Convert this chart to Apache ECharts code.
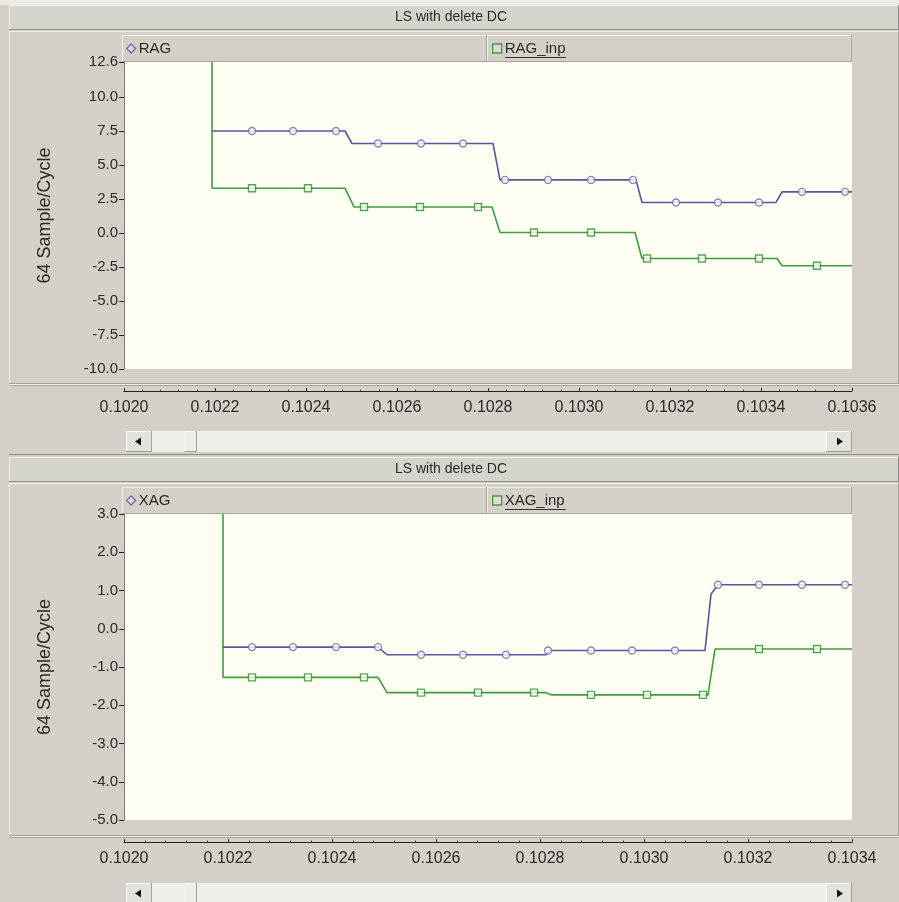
<!DOCTYPE html>
<html><head><meta charset="utf-8">
<script src="https://cdn.jsdelivr.net/npm/echarts@6/dist/echarts.min.js"></script>
<style>html,body{margin:0;padding:0;background:#d4d0c8}#c{width:899px;height:902px}</style>
</head><body><div id="c"></div>
<script>
// ---------- text ----------
const panelTitle = 'LS with delete DC';
const yAxisName = '64 Sample/Cycle';
const topNames = ['RAG', 'RAG_inp'];
const botNames = ['XAG', 'XAG_inp'];

// ---------- axis ranges ----------
const topX = [0.1020, 0.1036, 0.0002];
const topY = [-10, 12.6, 2.5];
const botX = [0.1020, 0.1034, 0.0002];
const botY = [-5, 3, 1];

// ---------- top panel: RAG ----------
const ragPathX = [0.1021934, 0.1024857, 0.1025011, 0.1028110, 0.1028264, 0.1031253, 0.1031385, 0.1034330, 0.1034462, 0.1036];
const ragPathY = [7.52, 7.52, 6.60, 6.60, 3.92, 3.92, 2.26, 2.26, 3.04, 3.04];
const ragMarkX = [0.1022813, 0.1023714, 0.1024659, 0.1025582, 0.1026527, 0.1027451, 0.1028374, 0.1029319, 0.1030264, 0.1031187, 0.1032132, 0.1033055, 0.1033956, 0.1034901, 0.1035846];
const ragMarkY = [7.52, 7.52, 7.52, 6.60, 6.60, 6.60, 3.92, 3.92, 3.92, 3.92, 2.26, 2.26, 2.26, 3.04, 3.04];

// ---------- top panel: RAG_inp ----------
const ragInpPathX = [0.1021934, 0.1021934, 0.1024857, 0.1025055, 0.1028088, 0.1028264, 0.1031231, 0.1031385, 0.1034352, 0.1034462, 0.1036];
const ragInpPathY = [12.6, 3.31, 3.31, 1.93, 1.93, 0.05, 0.05, -1.86, -1.86, -2.40, -2.40];
const ragInpMarkX = [0.1022813, 0.1024044, 0.1025275, 0.1026505, 0.1027780, 0.1029011, 0.1030264, 0.1031495, 0.1032703, 0.1033956, 0.1035230];
const ragInpMarkY = [3.31, 3.31, 1.93, 1.93, 1.93, 0.05, 0.05, -1.86, -1.86, -1.86, -2.40];

// ---------- bottom panel: XAG ----------
const xagPathX = [0.1021904, 0.1024885, 0.1025058, 0.1028115, 0.1028192, 0.1031173, 0.1031288, 0.1031423, 0.1034];
const xagPathY = [-0.48, -0.48, -0.68, -0.68, -0.57, -0.57, 0.90, 1.15, 1.15];
const xagMarkX = [0.1022462, 0.1023250, 0.1024077, 0.1024885, 0.1025712, 0.1026519, 0.1027346, 0.1028154, 0.1028981, 0.1029769, 0.1030596, 0.1031423, 0.1032212, 0.1033038, 0.1033865];
const xagMarkY = [-0.48, -0.48, -0.48, -0.48, -0.68, -0.68, -0.68, -0.57, -0.57, -0.57, -0.57, 1.15, 1.15, 1.15, 1.15];

// ---------- bottom panel: XAG_inp ----------
const xagInpPathX = [0.1021904, 0.1021904, 0.1024885, 0.1025058, 0.1028115, 0.1028231, 0.1031231, 0.1031365, 0.1034];
const xagInpPathY = [3.0, -1.27, -1.27, -1.67, -1.67, -1.73, -1.73, -0.53, -0.53];
const xagInpMarkX = [0.1022462, 0.1023538, 0.1024615, 0.1025712, 0.1026808, 0.1027885, 0.1028981, 0.1030058, 0.1031135, 0.1032212, 0.1033327];
const xagInpMarkY = [-1.27, -1.27, -1.27, -1.67, -1.67, -1.67, -1.73, -1.73, -1.73, -0.53, -0.53];

// ---------- styling ----------
const BLUE = '#5656a0', BLUE_M = '#6a6ab4';
const GREEN = '#3f9c3f', GREEN_M = '#2f8f2f';
const FONT = 'Liberation Sans';
const TXT = '#2a2a2a';
const zip = (xs, ys) => xs.map((x, i) => [x, ys[i]]);

const chart = echarts.init(document.getElementById('c'), null, {renderer: 'canvas'});

function xAxisCfg(gi, r) {
  return {
    type: 'value', gridIndex: gi, min: r[0], max: r[1], interval: r[2],
    position: 'bottom', offset: 22,
    axisLine: {show: true, onZero: false, lineStyle: {color: '#222', width: 1}},
    axisTick: {show: true, inside: true, length: 3, lineStyle: {color: '#222'}},
    minorTick: {show: true, splitNumber: 5, length: 1.5, lineStyle: {color: '#444'}},
    splitLine: {show: false},
    axisLabel: {formatter: v => v.toFixed(4), fontFamily: FONT, fontSize: 16, color: TXT, margin: 9}
  };
}
function yAxisCfg(gi, r) {
  return {
    type: 'value', gridIndex: gi, min: r[0], max: r[1], interval: r[2],
    position: 'left',
    name: yAxisName, nameLocation: 'middle', nameGap: 70, nameRotate: 90,
    nameTextStyle: {fontFamily: FONT, fontSize: 18, color: TXT},
    axisLine: {show: true, onZero: false, lineStyle: {color: '#7c7a74', width: 1}},
    axisTick: {show: true, length: 5, lineStyle: {color: '#222'}},
    splitLine: {show: false},
    axisLabel: {formatter: v => v.toFixed(1), fontFamily: FONT, fontSize: 15, color: TXT, margin: 6,
      showMinLabel: true, showMaxLabel: true}
  };
}
function pathSeries(name, gi, xs, ys, color) {
  return {name, type: 'line', xAxisIndex: gi, yAxisIndex: gi, data: zip(xs, ys),
    showSymbol: false, symbol: 'none', lineStyle: {color, width: 1.6}, itemStyle: {color},
    animation: false, z: 3, clip: true};
}
function markSeries(name, gi, xs, ys, color, symbol) {
  return {name, type: 'scatter', xAxisIndex: gi, yAxisIndex: gi, data: zip(xs, ys),
    symbol, symbolSize: 7, itemStyle: {color: '#fffef2', borderColor: color, borderWidth: 1.4},
    animation: false, z: 4};
}

// ---------- window chrome ----------
const g = [];
function bevelRect(x, y, w, h, fill, light, dark) {
  g.push({type: 'rect', shape: {x, y, width: w, height: h}, style: {fill}, z: -5, silent: true});
  g.push({type: 'line', shape: {x1: x, y1: y + 0.5, x2: x + w, y2: y + 0.5}, style: {stroke: light, lineWidth: 1}, z: -4});
  g.push({type: 'line', shape: {x1: x + 0.5, y1: y, x2: x + 0.5, y2: y + h}, style: {stroke: light, lineWidth: 1}, z: -4});
  g.push({type: 'line', shape: {x1: x, y1: y + h - 0.5, x2: x + w, y2: y + h - 0.5}, style: {stroke: dark, lineWidth: 1}, z: -4});
  g.push({type: 'line', shape: {x1: x + w - 0.5, y1: y, x2: x + w - 0.5, y2: y + h}, style: {stroke: dark, lineWidth: 1}, z: -4});
}
g.push({type: 'rect', shape: {x: 0, y: 0, width: 899, height: 5}, style: {fill: '#ecebe6'}, z: -6});
[0, 452].forEach(oy => {
  bevelRect(9, 31 + oy, 890, 355, '#d4d0c8', '#f2f1ec', '#a4a19a');
  bevelRect(9, 5 + oy, 890, 25, '#d6d3cc', '#f4f3ef', '#8f8d87');
  g.push({type: 'text', x: 451, y: 17 + oy, style: {text: panelTitle, font: '14px ' + FONT, fill: TXT, align: 'center', verticalAlign: 'middle'}, z: -3});
  bevelRect(122, 35 + oy, 365, 27, '#d4d0c8', '#f0efea', '#a9a69f');
  bevelRect(487, 35 + oy, 365, 27, '#d4d0c8', '#f0efea', '#a9a69f');
  g.push({type: 'line', shape: {x1: 9, y1: 383.5 + oy, x2: 899, y2: 383.5 + oy}, style: {stroke: '#a4a19a', lineWidth: 1}, z: -4});
  g.push({type: 'line', shape: {x1: 9, y1: 384.5 + oy, x2: 899, y2: 384.5 + oy}, style: {stroke: '#f2f1ec', lineWidth: 1}, z: -4});
  const sy = 431 + oy;
  g.push({type: 'rect', shape: {x: 126, y: sy, width: 726, height: 21}, style: {fill: '#efeee9'}, z: -5});
  bevelRect(126, sy, 26, 21, '#e4e2dc', '#fbfbf8', '#a29f98');
  bevelRect(826, sy, 26, 21, '#e4e2dc', '#fbfbf8', '#a29f98');
  bevelRect(185, sy, 12, 21, '#edece7', '#fbfbf8', '#a29f98');
  g.push({type: 'polygon', shape: {points: [[135, sy + 10.5], [141, sy + 6.5], [141, sy + 14.5]]}, style: {fill: '#111'}, z: -3});
  g.push({type: 'polygon', shape: {points: [[843, sy + 10.5], [837, sy + 6.5], [837, sy + 14.5]]}, style: {fill: '#111'}, z: -3});
  g.push({type: 'line', shape: {x1: 9, y1: 454.5 + oy, x2: 899, y2: 454.5 + oy}, style: {stroke: '#8e8c86', lineWidth: 1}, z: -4});
  // underline of second legend entry
  g.push({type: 'line', shape: {x1: 505, y1: 57.5 + oy, x2: 566, y2: 57.5 + oy}, style: {stroke: '#333', lineWidth: 1}, z: 5});
});

function legendCfg(name, left, top, icon, color) {
  return {data: [{name, icon}], left, top, itemWidth: 9, itemHeight: 9, itemGap: 4,
    itemStyle: {color: '#dcdad3', borderColor: color, borderWidth: 1.3},
    textStyle: {fontFamily: FONT, fontSize: 15, color: TXT, padding: [0, 0, 0, -2]},
    selectedMode: false, padding: 0};
}

const option = {
  backgroundColor: '#d4d0c8',
  animation: false,
  graphic: g,
  legend: [
    legendCfg(topNames[0], 126, 41, 'diamond', BLUE_M),
    legendCfg(topNames[1], 492, 41, 'rect', GREEN),
    legendCfg(botNames[0], 126, 493, 'diamond', BLUE_M),
    legendCfg(botNames[1], 492, 493, 'rect', GREEN)
  ],
  grid: [
    {left: 124, top: 62, width: 728, height: 307, show: true, backgroundColor: '#fffef3', borderWidth: 0, containLabel: false},
    {left: 124, top: 514, width: 728, height: 306, show: true, backgroundColor: '#fffef3', borderWidth: 0, containLabel: false}
  ],
  xAxis: [xAxisCfg(0, topX), xAxisCfg(1, botX)],
  yAxis: [yAxisCfg(0, topY), yAxisCfg(1, botY)],
  series: [
    pathSeries(topNames[1], 0, ragInpPathX, ragInpPathY, GREEN),
    markSeries(topNames[1], 0, ragInpMarkX, ragInpMarkY, GREEN_M, 'rect'),
    pathSeries(topNames[0], 0, ragPathX, ragPathY, BLUE),
    markSeries(topNames[0], 0, ragMarkX, ragMarkY, BLUE_M, 'circle'),
    pathSeries(botNames[1], 1, xagInpPathX, xagInpPathY, GREEN),
    markSeries(botNames[1], 1, xagInpMarkX, xagInpMarkY, GREEN_M, 'rect'),
    pathSeries(botNames[0], 1, xagPathX, xagPathY, BLUE),
    markSeries(botNames[0], 1, xagMarkX, xagMarkY, BLUE_M, 'circle')
  ]
};
chart.setOption(option);
</script></body></html>
